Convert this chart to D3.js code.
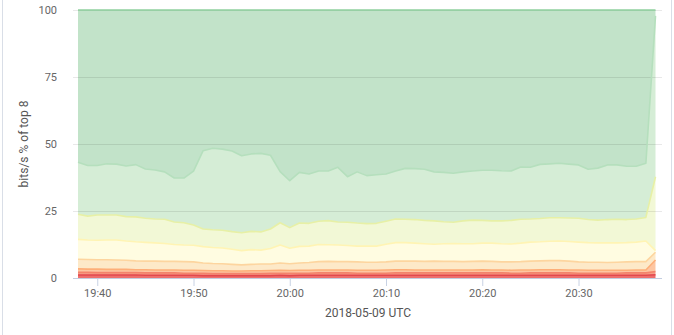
<!DOCTYPE html>
<html>
<head>
<meta charset="utf-8">
<script src="https://cdn.jsdelivr.net/npm/d3@7"></script>
<style>
html,body{margin:0;padding:0;background:#fff;}
svg{display:block;font-family:Roboto,"Noto Sans",sans-serif;}
</style>
</head>
<body>
<svg id="chart" width="674" height="335"></svg>
<script>
// ---- data (cumulative top of each series, % of top 8) ----
const startTime = "2018-05-09T19:38:00Z";
const stepMinutes = 1;
const seriesNames = ["s1","s2","s3","s4","s5","s6","s7","s8"];
const redTop = [1.1,1.1,1.1,1.1,1.1,1.1,1.1,1.0,1.0,1.0,1.0,1.0,1.0,0.9,0.9,0.9,0.9,0.9,0.9,0.9,0.9,1.0,0.9,1.0,1.0,1.0,1.0,1.0,1.0,1.0,1.0,1.0,1.0,1.0,1.0,1.0,1.0,1.0,1.0,1.0,1.0,1.0,1.0,1.0,1.0,1.0,1.0,1.0,1.0,1.0,1.0,1.0,1.0,1.0,1.0,1.0,1.0,1.0,1.0,1.0,1.2];
const salmonTop = [2.1,2.1,2.0,2.0,2.0,2.0,2.0,1.9,1.9,1.9,1.9,1.8,1.8,1.8,1.7,1.7,1.7,1.7,1.7,1.7,1.8,1.8,1.8,1.8,1.8,1.9,1.9,1.9,1.9,1.8,1.8,1.8,1.8,1.9,1.9,1.9,1.9,1.9,1.9,1.9,1.9,1.9,1.9,1.9,1.9,1.8,1.8,1.9,1.9,1.9,1.9,1.9,1.8,1.8,1.8,1.8,1.8,1.9,1.9,1.9,2.4];
const orangeTop = [3.4,3.3,3.3,3.2,3.2,3.2,3.1,3.1,3.0,3.0,3.0,2.9,2.9,2.8,2.7,2.7,2.6,2.6,2.7,2.7,2.8,2.9,2.8,2.9,2.9,3.0,3.0,3.0,3.0,2.9,2.9,2.9,3.0,3.1,3.1,3.0,3.0,3.0,3.0,3.0,3.0,3.0,3.1,3.0,3.0,2.9,3.0,3.0,3.1,3.1,3.1,3.0,3.0,2.9,2.9,2.9,2.9,2.9,3.0,3.0,6.7];
const peachTop = [7.0,6.9,6.8,6.8,6.7,6.6,6.4,6.3,6.3,6.2,6.2,6.1,6.0,5.6,5.4,5.3,5.1,4.9,5.1,5.2,5.2,5.6,5.3,5.6,5.8,6.1,6.2,6.1,6.1,6.0,5.9,5.9,6.0,6.3,6.3,6.3,6.2,6.3,6.2,6.2,6.1,6.2,6.3,6.2,6.0,6.0,6.1,6.3,6.4,6.5,6.5,6.3,6.0,5.9,5.9,5.8,5.9,6.0,6.1,6.1,9.6];
const lightYellowTop = [14.4,14.2,14.1,14.2,14.2,13.8,13.5,13.3,13.1,12.9,12.5,12.3,12.2,11.7,11.4,11.2,10.7,10.2,10.6,10.4,11.0,12.3,11.1,11.8,11.9,12.5,12.4,12.3,12.1,11.9,11.9,11.9,12.6,13.2,13.2,13.0,12.8,12.6,12.8,12.9,12.8,12.8,13.0,13.0,12.8,12.7,13.0,13.4,13.5,13.7,13.8,13.6,13.4,13.2,13.1,13.1,13.1,13.2,13.4,13.8,10.2];
const yellowGreenTop = [23.8,23.1,23.5,23.5,23.5,22.9,22.8,22.3,22.0,21.9,20.9,20.6,19.8,18.3,18.0,17.8,17.3,16.9,17.4,17.2,18.3,20.6,18.8,20.5,20.4,21.2,21.4,20.9,20.8,20.5,20.3,20.4,21.2,22.0,21.9,21.8,21.5,21.3,21.0,20.8,21.3,21.6,21.5,21.3,21.3,21.5,21.9,22.0,22.2,22.5,22.5,22.4,22.3,21.8,21.6,21.8,21.9,21.8,22.0,22.6,37.8];
const lightGreenTop = [43.2,42.0,42.0,42.6,42.5,41.8,42.3,40.7,40.3,39.6,37.3,37.3,39.9,47.5,48.4,48.1,47.4,45.6,46.3,46.5,45.8,39.7,36.3,39.4,38.8,39.9,39.9,41.3,37.8,39.6,38.2,38.5,38.8,39.9,40.9,40.8,40.6,39.6,39.4,39.1,39.6,39.9,40.2,40.2,40.0,39.9,41.4,41.3,42.4,42.6,42.8,42.5,42.2,40.6,41.0,42.2,42.2,41.7,41.7,42.8,97.8];
const greenTop = new Array(61).fill(100);
const yTicks = [0,25,50,75,100];
const yTitle = "bits/s % of top 8";
const xTitle = "2018-05-09 UTC";

// styles
const fills   = ["#ee6e6c","#f79f88","#fdc6a2","#fde9c8","#fffce1","#f2f8d6","#d5edd6","#c2e3c9"];
const strokes = ["#e2474d","#f4836b","#fdae78","#fdd59f","#fff4b4","#e7f0a6","#b5dfbd","#8fd09e"];

// build table of per-series shares from the cumulative readings
const tops = [redTop, salmonTop, orangeTop, peachTop, lightYellowTop, yellowGreenTop, lightGreenTop, greenTop];
const t0 = new Date(startTime);
const rows = redTop.map((_, i) => {
  const r = {time: d3.utcMinute.offset(t0, i * stepMinutes)};
  seriesNames.forEach((n, k) => { r[n] = tops[k][i] - (k ? tops[k-1][i] : 0); });
  return r;
});
const stacked = d3.stack().keys(seriesNames)(rows);

const svg = d3.select("#chart");
const x = d3.scaleUtc()
  .domain([rows[0].time, rows[rows.length-1].time])
  .range([78, 655.5]);
const y = d3.scaleLinear().domain([0,100]).range([278, 10]);

// panel borders
svg.append("line").attr("x1",2.5).attr("x2",2.5).attr("y1",0).attr("y2",335).attr("stroke","#d9dee7");
svg.append("line").attr("x1",671.5).attr("x2",671.5).attr("y1",0).attr("y2",335).attr("stroke","#d9dee7");

// areas
const area = d3.area().x(d => x(d.data.time)).y0(d => y(d[0])).y1(d => y(d[1]));
const topLine = d3.line().x(d => x(d.data.time)).y(d => y(d[1]));
svg.append("g").selectAll("path").data(stacked).join("path")
  .attr("d", area).attr("fill", (d,i) => fills[i]);

// gridlines
svg.append("g").selectAll("line").data(yTicks.filter(v => v > 0)).join("line")
  .attr("x1",73).attr("x2",662)
  .attr("y1", d => y(d) + 0.5).attr("y2", d => y(d) + 0.5)
  .attr("stroke","rgba(0,0,0,0.09)");

// top lines (draw top series first so lower series lines sit above)
svg.append("g").selectAll("path").data(stacked.slice().reverse()).join("path")
  .attr("d", topLine).attr("fill","none")
  .attr("stroke", d => strokes[d.index])
  .attr("stroke-width", 1.6).attr("stroke-linejoin","round");

// y tick labels
svg.append("g").selectAll("text").data(yTicks).join("text")
  .attr("x",57).attr("y", d => y(d)).attr("dy","0.35em")
  .attr("text-anchor","end").attr("font-size",11).attr("fill","#666")
  .text(d => d);

// x axis
const xAxis = d3.axisBottom(x).ticks(d3.utcMinute.every(10)).tickFormat(d3.utcFormat("%H:%M")).tickSize(8).tickSizeOuter(0);
const gx = svg.append("g").attr("transform","translate(0,278)").call(xAxis);
gx.select(".domain").remove();
gx.selectAll(".tick line").attr("stroke","#c8d2e4");
gx.selectAll(".tick text").attr("fill","#666").attr("font-size",11).attr("font-family","Roboto,sans-serif").attr("y",11);
svg.append("line").attr("x1",73).attr("x2",662).attr("y1",278.5).attr("y2",278.5).attr("stroke","#c3cde0");

// titles
svg.append("text").attr("transform","translate(24,144) rotate(-90)")
  .attr("text-anchor","middle").attr("dy","0.35em").attr("font-size",12).attr("fill","#555").text(yTitle);
svg.append("text").attr("x",368).attr("y",313).attr("dy","0.35em")
  .attr("text-anchor","middle").attr("font-size",12).attr("fill","#555").text(xTitle);
</script>
</body>
</html>
